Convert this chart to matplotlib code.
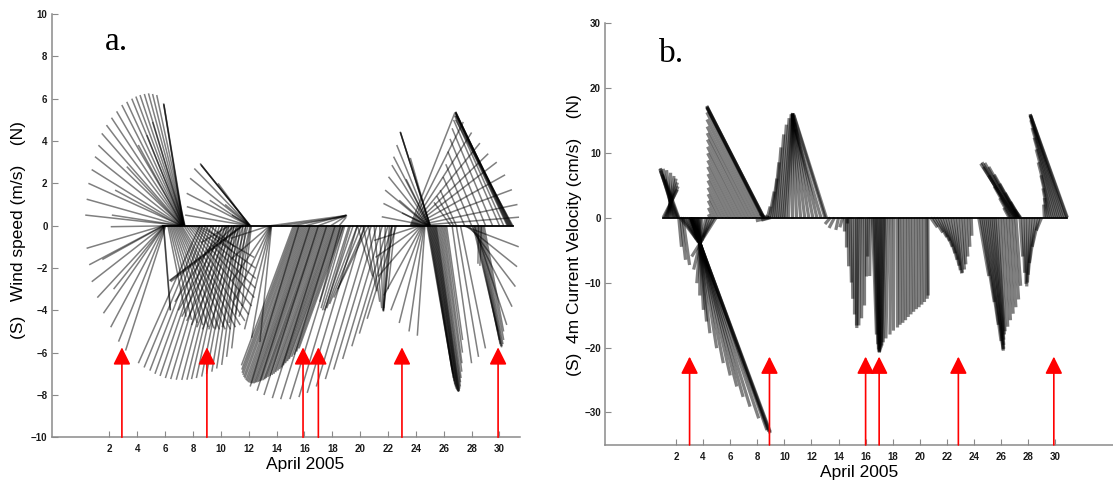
import matplotlib
matplotlib.use("Agg")
import matplotlib.pyplot as plt
from matplotlib.collections import LineCollection

plt.rcParams["font.family"] = ["Liberation Sans", "DejaVu Sans"]

# ---- (a) wind sticks: base day, east (m/s), north (m/s) ----
wind_day = [
    7.15, 7.18, 7.21, 7.24, 7.27, 7.30, 7.33, 7.36, 7.39, 7.42, 7.30, 7.33, 7.36, 7.05, 7.10, 7.12, 7.20, 7.25, 7.30, 7.35,
    7.16, 7.20, 7.23, 7.26, 7.29, 7.32, 7.35, 7.38, 7.41,
    5.85, 5.90, 5.95, 6.00, 5.90, 5.95, 5.88, 5.90, 8.50, 8.90, 9.30, 9.70, 10.10, 10.45, 10.80, 11.10, 11.40, 11.80,
    5.87, 5.92, 5.97, 6.05,
    8.70, 9.10, 9.50, 9.90, 10.30, 10.60, 10.95, 11.25, 11.60,
    6.20, 6.40, 6.60, 6.80, 7.00, 7.20, 7.50, 7.80, 8.10, 8.40, 11.50, 11.55, 11.60, 10.20, 10.60, 11.00, 11.40, 11.80, 12.10, 12.20, 8.80, 9.20, 11.00, 10.60,
    6.30, 6.50, 6.70, 6.90, 7.10, 7.35, 7.65, 7.95, 8.25, 10.40, 10.80, 11.20, 11.60, 11.95, 12.15,
    11.95, 11.98, 12.00, 12.03, 12.06, 12.08, 12.10, 12.12, 12.00, 12.05, 12.10, 12.10,
    13.50, 13.52, 13.54, 13.56, 13.58, 13.60, 13.62, 13.64,
    13.60, 14.30, 15.20, 16.10, 17.00, 17.90, 18.50,
    15.20, 15.40, 15.60, 15.80, 16.00, 16.20, 16.40, 16.60, 16.80, 17.00, 17.20, 17.40, 17.60, 17.80, 18.00, 18.20, 18.40, 18.60, 18.80,
    15.30, 15.50, 15.70, 15.90, 16.10, 16.30, 16.50, 16.70, 16.90, 17.10, 17.30, 17.50, 17.70, 17.90, 18.10, 18.30, 18.50, 18.70,
    18.60, 18.90, 19.20, 19.50, 19.80, 20.10, 20.40, 20.60,
    15.60, 16.40, 17.00, 17.60, 18.20, 18.80, 19.30, 19.80, 20.30, 20.80, 21.20, 21.60, 22.00, 22.30, 22.60,
    19.80, 20.20, 20.60, 21.00, 21.40, 21.80, 22.10, 22.25, 22.30, 22.50,
    24.30, 24.35, 24.40, 24.45, 24.50, 24.55, 24.60, 24.65,
    24.80, 24.83, 24.86, 24.89, 24.92, 24.95, 24.98, 25.00, 25.02, 25.04, 24.90, 24.95, 25.00, 24.90,
    30.55, 30.60, 30.65, 30.70, 30.75, 30.80, 30.85, 30.90, 30.95,
    23.60, 23.65, 23.70, 23.75, 23.80, 23.85, 23.90, 23.95, 24.00, 24.05,
    26.90, 26.70, 26.50,
    27.50, 28.00, 28.50, 29.00, 29.50, 30.00, 30.30,
    24.80, 24.90, 25.00, 25.10, 25.20, 25.30, 25.40, 25.50, 25.60, 25.70, 25.80, 25.90, 26.00, 26.10, 26.20,
    24.85, 24.95, 25.05, 25.15, 25.25, 25.35, 25.45,
    28.10, 28.20, 28.30, 28.40, 28.50, 28.60, 28.70, 28.80, 28.90, 28.50, 28.70,
    27.40, 27.60, 27.80, 28.00, 28.20, 26.60, 26.90, 27.20,
]
wind_east = [
    -4.53, -4.40, -4.11, -3.81, -3.37, -2.90, -2.45, -2.08, -1.70, -1.33, -0.93, -0.94, -0.95, -3.26, -3.24, -3.10, -2.60, -2.09, -1.72, -1.48,
    -4.47, -4.26, -3.96, -3.60, -3.14, -2.68, -2.27, -1.89, -1.52,
    -3.61, -3.40, -2.88, -2.20, -2.90, -2.40, 0.32, 0.32, -2.91, -2.63, -2.41, -2.17, -1.91, -1.68, -1.43, -1.15, -0.88, -0.67,
    -3.50, -3.15, -2.55, -1.90,
    -2.77, -2.52, -2.29, -2.04, -1.80, -1.55, -1.30, -1.02, -0.78,
    0.86, 1.25, 1.65, 2.04, 2.43, 2.76, 2.96, 3.03, 2.90, 2.63, -3.42, -3.42, -3.42, -2.30, -2.24, -2.04, -1.78, -1.45, -0.99, -0.46, 1.32, 1.18, -1.32, -1.32,
    1.05, 1.45, 1.85, 2.25, 2.60, 2.88, 3.00, 2.98, 2.78, -2.27, -2.14, -1.92, -1.62, -1.22, -0.72,
    -2.97, -2.91, -2.93, -2.79, -2.61, -2.35, -2.34, -2.32, -1.84, -1.48, -1.18, -0.86,
    -1.84, -1.86, -1.80, -1.68, -1.50, -1.25, -0.93, -0.55,
    3.55, 3.03, 2.50, 1.91, 1.35, 0.76, 0.33,
    -2.45, -2.55, -2.60, -2.63, -2.65, -2.65, -2.65, -2.65, -2.63, -2.60, -2.60, -2.55, -2.50, -2.45, -2.40, -2.35, -2.30, -2.20, -2.10,
    -2.50, -2.58, -2.62, -2.64, -2.65, -2.65, -2.65, -2.64, -2.62, -2.60, -2.58, -2.52, -2.48, -2.42, -2.38, -2.32, -2.25, -2.15,
    -0.99, -1.12, -1.25, -1.35, -1.45, -1.51, -1.51, -1.45,
    -2.30, -2.50, -2.57, -2.57, -2.57, -2.53, -2.43, -2.37, -2.27, -2.17, -2.04, -1.88, -1.71, -1.55, -1.38,
    0.72, 0.66, 0.53, 0.36, 0.16, -0.09, -0.28, -0.38, -0.39, -0.33,
    -2.17, -2.14, -2.04, -1.81, -1.51, -1.15, -0.72, -0.36,
    -2.14, -2.08, -2.02, -1.88, -1.74, -1.68, -1.55, -1.40, -1.41, -1.41, -1.38, -1.09, -0.92, -1.25,
    -2.43, -2.47, -2.50, -2.53, -2.57, -2.60, -2.63, -2.66, -2.70,
    2.11, 2.47, 2.83, 3.19, 3.55, 3.92, 4.28, 4.57, 4.80, 4.84,
    -0.76, -0.79, -0.79,
    -1.02, -1.22, -1.45, -1.68, -1.91, -2.17, -2.32,
    1.18, 1.18, 1.18, 1.18, 1.18, 1.15, 1.12, 1.09, 1.05, 0.99, 0.95, 0.92, 0.86, 0.82, 0.76,
    1.18, 1.18, 1.18, 1.18, 1.16, 1.14, 1.10,
    1.18, 1.18, 1.15, 1.12, 1.09, 1.05, 1.02, 0.99, 0.92, -0.03, -0.07,
    2.62, 2.41, 2.20, 1.91, 1.53, 0.92, 1.05, 1.18,
]
wind_north = [
    0.50, 2.00, 3.26, 4.36, 5.10, 5.70, 6.00, 6.17, 6.25, 6.17, 5.78, 5.75, 5.72, -0.05, 0.50, 1.68, 2.79, 3.81, 4.28, 4.90,
    1.25, 2.65, 3.80, 4.75, 5.40, 5.85, 6.10, 6.22, 6.22,
    -1.07, -2.65, -4.14, -5.48, -1.60, -3.00, -4.00, -4.00, -6.50, -6.85, -7.10, -7.25, -7.29, -7.25, -7.13, -6.90, -6.58, -5.80,
    -1.85, -3.40, -4.80, -5.90,
    -6.70, -7.00, -7.20, -7.28, -7.28, -7.20, -7.00, -6.75, -6.20,
    -4.30, -4.60, -4.80, -4.90, -4.90, -4.70, -4.20, -3.40, -2.50, -1.50, -2.60, -2.60, -2.65, -3.60, -4.30, -4.70, -4.90, -4.90, -4.60, -3.80, -1.20, -1.00, -1.20, -0.80,
    -4.45, -4.70, -4.85, -4.90, -4.80, -4.50, -3.80, -2.95, -2.00, -4.00, -4.50, -4.80, -4.90, -4.80, -4.20,
    0.50, 0.90, 1.53, 2.24, 2.70, 2.94, 2.90, 2.85, 1.20, 2.00, 1.00, 0.50,
    -0.60, -1.60, -2.60, -3.50, -4.30, -4.90, -5.30, -5.50,
    0.48, 0.42, 0.47, 0.50, 0.50, 0.48, 0.40,
    -6.60, -6.95, -7.15, -7.30, -7.40, -7.45, -7.45, -7.40, -7.35, -7.30, -7.20, -7.10, -7.00, -6.85, -6.70, -6.50, -6.30, -6.10, -5.80,
    -6.80, -7.05, -7.22, -7.35, -7.42, -7.45, -7.42, -7.38, -7.32, -7.25, -7.15, -7.05, -6.92, -6.78, -6.60, -6.40, -6.20, -5.95,
    -3.60, -3.90, -4.00, -4.00, -3.90, -3.70, -3.40, -3.00,
    -7.60, -7.80, -8.00, -8.15, -8.20, -8.20, -8.10, -7.90, -7.60, -7.25, -6.80, -6.30, -5.70, -5.10, -4.40,
    -2.40, -3.10, -3.60, -3.90, -4.00, -4.05, -4.05, -4.00, -3.90, -3.00,
    -0.70, -1.50, -2.40, -3.30, -4.00, -4.60, -5.00, -5.20,
    0.42, 1.05, 1.68, 2.31, 2.86, 3.26, 3.81, 4.44, 4.42, 4.40, 1.20, 2.20, 3.20, 0.60,
    5.20, 5.30, 5.35, 5.38, 5.38, 5.35, 5.30, 5.20, 5.00,
    5.35, 4.90, 4.40, 3.90, 3.40, 3.00, 2.40, 1.70, 1.00, 0.40,
    1.68, 1.40, 1.10,
    2.30, 2.90, 3.50, 4.10, 4.60, 5.00, 5.20,
    -6.80, -7.20, -7.50, -7.70, -7.80, -7.85, -7.80, -7.70, -7.60, -7.40, -7.20, -6.90, -6.50, -6.00, -5.40,
    -7.00, -7.35, -7.60, -7.75, -7.82, -7.85, -7.80,
    -5.00, -5.40, -5.60, -5.70, -5.75, -5.70, -5.60, -5.40, -5.00, -1.80, -1.90,
    -1.00, -1.94, -2.88, -3.83, -4.69, -6.50, -6.20, -5.80,
]

# ---- (b) 4 m current sticks: base day, east (cm/s), north (cm/s) ----
cur_day = [
    1.05, 1.15, 1.25, 1.35, 1.45, 1.55, 1.70, 1.80, 1.90, 2.00, 2.10, 2.15, 2.20,
    2.20, 2.35, 2.50,
    2.30, 2.45, 2.60, 2.75, 2.90, 3.00, 3.06, 3.07, 3.08, 3.09, 3.13, 3.19, 3.24, 3.28, 3.34, 3.40, 3.47, 3.56, 3.61, 3.67, 3.78, 3.92, 4.23, 4.96, 4.40, 4.60, 4.80,
    4.50, 4.75, 5.00, 5.25, 5.50, 5.75, 6.00, 6.25, 6.50, 6.75, 7.00, 7.25, 7.50, 7.75, 8.00, 8.25, 8.45, 8.50, 8.40, 8.48, 8.60, 8.80, 8.90, 9.00,
    8.75, 8.90, 9.05, 9.20, 9.35, 9.50, 9.65, 9.80, 9.95, 10.10,
    10.30, 10.60, 10.90, 11.20, 11.50, 11.80, 12.10, 12.40, 12.70, 13.00, 13.10,
    13.40, 13.70, 14.00, 14.30, 14.60,
    14.40, 14.55, 14.70, 14.85, 15.00, 15.15, 15.30, 15.45, 15.60, 15.75, 15.90, 16.05,
    16.20, 16.35,
    16.50, 16.60, 16.70, 16.80, 16.90, 17.00, 17.10, 17.20, 17.30, 17.40, 17.50,
    17.70, 17.90, 18.10, 18.30, 18.50, 18.70, 18.90, 19.10, 19.30, 19.50, 19.70, 19.90, 20.10, 20.30, 20.50, 20.60,
    20.80, 21.00, 21.20, 21.40, 21.60, 21.80, 22.00, 22.20, 22.40, 22.60, 22.80, 23.00, 23.20, 23.40, 23.60, 23.80,
    26.60, 26.70, 26.80, 26.90, 27.00, 27.05, 27.10, 27.15, 27.20, 27.25, 27.30, 27.35, 27.40, 27.45,
    24.35, 24.50, 24.65, 24.80, 24.95, 25.10, 25.25, 25.40, 25.55, 25.70, 25.90, 26.10, 26.30, 26.50, 26.70, 26.90, 27.10,
    27.40, 27.60, 27.80, 28.00, 28.20, 28.40, 28.60, 28.80, 29.00,
    29.20, 29.35, 29.50, 29.65, 29.80, 29.95, 30.10, 30.25, 30.40, 30.55, 30.70, 30.85, 30.90,
]
cur_east = [
    2.19, 2.09, 1.77, 1.36, 0.83, 0.10, -0.83, -1.57, -2.19, -2.50, -2.61, -2.40, -2.09,
    0.42, 0.73, 1.04,
    2.50, 2.40, 2.19, 1.98, 1.77, 1.57, 12.30, 12.25, 12.00, 11.71, 10.37, 8.91, 7.74, 6.68, 5.55, 4.36, 3.19, 1.96, 1.34, 0.73, -0.06, -0.81, -1.94, -3.76, -1.15, -1.46, -1.67,
    -0.23, -0.75, -1.29, -1.84, -2.36, -2.90, -3.42, -3.97, -4.49, -5.03, -5.57, -6.11, -6.66, -7.20, -7.74, -8.28, -8.72, -8.81, -8.60, -8.76, -0.83, -0.42, -2.09, -1.46,
    0.42, 0.73, 0.83, 0.83, 0.83, 0.94, 1.04, 1.15, 1.15, 1.04,
    0.67, 0.00, -0.63, -1.25, -1.84, -2.40, -2.92, -3.44, -3.97, -4.90, -5.00,
    -0.83, -0.83, -0.42, -0.42, 0.00,
    0.00, 0.00, 0.10, 0.21, 0.10, 0.00, 0.00, -0.21, -0.21, -0.10, 0.00, 0.00,
    -0.10, -0.10,
    0.63, 0.63, 0.52, 0.42, 0.21, 0.04, -0.10, -0.21, -0.31, -0.42, -0.42,
    -0.42, -0.21, -0.10, 0.00, 0.10, 0.10, 0.10, 0.10, 0.10, 0.10, 0.10, 0.10, 0.10, 0.10, 0.10, 0.04,
    1.04, 1.46, 1.67, 1.67, 1.67, 1.67, 1.57, 1.46, 1.25, 1.04, 0.73, 0.63, 0.42, 0.31, 0.21, 0.10,
    -0.83, -1.67, -2.71, -3.76, -4.80, -5.32, -5.22, -4.90, -4.38, -3.65, -2.92, -2.19, -1.46, -0.94,
    1.57, 2.09, 2.40, 2.50, 2.50, 2.23, 1.98, 1.67, 1.36, 1.15, 0.83, 0.83, 0.83, 0.83, 0.83, 0.83, 0.73,
    0.42, 0.31, 0.10, -0.21, -0.52, -0.83, -1.04, -1.04, -0.83,
    -0.10, -0.31, -0.83, -1.46, -2.19, -2.82, -3.44, -4.07, -4.59, -5.01, -5.32, -5.63, -5.63,
]
cur_north = [
    4.3, 4.8, 5.4, 6.0, 6.4, 6.9, 7.3, 7.5, 7.6, 7.5, 7.2, 6.6, 5.8,
    -4.5, -6.5, -7.3,
    -3.3, -3.6, -3.8, -3.9, -4.0, -4.0, -33.0, -33.2, -32.9, -32.7, -30.9, -29.1, -27.6, -26.0, -24.3, -22.4, -20.1, -17.8, -16.0, -14.2, -12.0, -10.1, -8.0, -6.0, -3.8, -3.5, -3.0,
    0.5, 1.5, 2.6, 3.6, 4.6, 5.7, 6.7, 7.8, 8.8, 9.9, 10.9, 12.0, 13.0, 14.0, 15.1, 16.2, 17.2, 17.0, 16.9, 17.1, 0.6, 0.3, -0.5, -0.4,
    1.7, 4.0, 6.0, 8.5, 10.8, 12.8, 14.3, 15.3, 15.9, 16.1,
    16.1, 16.0, 16.0, 15.9, 15.8, 15.6, 15.2, 14.6, 13.6, 16.0, 15.8,
    -1.0, -1.6, -1.9, -1.5, -0.8,
    -2.0, -4.5, -7.5, -10.0, -12.5, -14.8, -16.5, -17.0, -16.6, -15.5, -13.5, -9.0,
    -6.0, -9.0,
    -18.0, -19.5, -20.3, -20.6, -20.7, -20.8, -20.6, -20.3, -20.0, -19.7, -19.2,
    -18.6, -18.0, -17.4, -16.9, -16.5, -16.2, -15.8, -15.3, -14.9, -14.5, -14.1, -13.8, -13.4, -13.0, -12.5, -12.0,
    -1.5, -2.3, -3.0, -3.6, -4.5, -5.5, -6.5, -7.4, -8.1, -8.6, -8.5, -8.0, -7.2, -6.0, -4.5, -2.8,
    1.5, 3.0, 4.8, 6.5, 7.8, 8.3, 8.5, 8.4, 7.8, 6.6, 5.2, 3.8, 2.4, 1.2,
    -9.0, -13.0, -16.5, -19.0, -20.3, -20.5, -20.2, -19.6, -18.8, -18.0, -17.5, -16.8, -15.8, -14.8, -13.8, -12.6, -10.5,
    -6.0, -8.5, -10.2, -10.6, -10.0, -8.8, -7.0, -4.5, -2.0,
    2.0, 3.0, 4.5, 6.5, 8.5, 10.5, 12.3, 13.8, 15.0, 15.7, 15.9, 15.9, 15.7,
]

# red arrows (event days)
wind_events = [2.9, 9.0, 15.9, 17.0, 23.0, 29.9]
cur_events = [3.0, 8.9, 16.0, 17.0, 22.85, 29.9]
day_ticks = list(range(2, 31, 2))

assert len(wind_day) == len(wind_east) == len(wind_north)
assert len(cur_day) == len(cur_east) == len(cur_north)

fig = plt.figure(figsize=(11.13, 4.86), dpi=100)
ax_a = fig.add_axes([0.0465, 0.1002, 0.4208, 0.871])
ax_b = fig.add_axes([0.5436, 0.0844, 0.4564, 0.869])


def days_per_unit(ax):
    # keep sticks isotropic on screen
    pos = ax.get_position()
    w = pos.width * fig.get_figwidth()
    h = pos.height * fig.get_figheight()
    x0, x1 = ax.get_xlim()
    y0, y1 = ax.get_ylim()
    return (h / (y1 - y0)) / (w / (x1 - x0))


def setup(ax, xlim, ylim, yticks):
    ax.set_xlim(*xlim)
    ax.set_ylim(*ylim)
    for s in ("top", "right"):
        ax.spines[s].set_visible(False)
    for s in ("left", "bottom"):
        ax.spines[s].set_color("#8a8a8a")
        ax.spines[s].set_linewidth(1.1)
    ax.set_xticks(day_ticks)
    ax.set_yticks(yticks)
    ax.tick_params(direction="in", length=4, width=0.8, color="#8a8a8a",
                   labelsize=7, labelcolor="#1a1a1a")
    ax.tick_params(axis="x", pad=5)
    ax.tick_params(axis="y", pad=3)
    for lab in ax.get_xticklabels() + ax.get_yticklabels():
        lab.set_fontweight("bold")


def feather(ax, day, east, north, lw, alpha):
    k = days_per_unit(ax)
    segs = [[(d, 0.0), (d + e * k, n)] for d, e, n in zip(day, east, north)]
    ax.add_collection(LineCollection(segs, colors="black", linewidths=lw, alpha=alpha))
    ax.plot([min(day), max(day)], [0, 0], color="black", lw=1.3)


def events(ax, days, tip, bottom):
    for d in days:
        ax.annotate("", xy=(d, tip), xytext=(d, bottom),
                    arrowprops=dict(arrowstyle="-|>,head_length=1.0,head_width=0.5",
                                    mutation_scale=10.5, color="red", lw=1.2,
                                    shrinkA=0, shrinkB=0))


setup(ax_a, (-2.135, 31.48), (-10, 10), range(-10, 11, 2))
setup(ax_b, (-3.244, 34.27), (-35, 30), range(-30, 31, 10))

feather(ax_a, wind_day, wind_east, wind_north, lw=1.1, alpha=0.5)
feather(ax_b, cur_day, cur_east, cur_north, lw=2.3, alpha=0.5)

events(ax_a, wind_events, -5.75, -10)
events(ax_b, cur_events, -21.4, -35)

ax_a.set_ylabel("(S)   Wind speed (m/s)    (N)", fontsize=12.5, va="center")
ax_a.yaxis.set_label_coords(-0.07, 0.49)
ax_b.set_ylabel("(S)  4m Current Velocity (cm/s)    (N)", fontsize=12.5, va="center")
ax_b.yaxis.set_label_coords(-0.061, 0.497)

ax_a.text(0.541, -0.065, "April 2005", transform=ax_a.transAxes, ha="center", va="center", fontsize=12.5)
ax_b.text(0.5, -0.066, "April 2005", transform=ax_b.transAxes, ha="center", va="center", fontsize=12.5)

fig.text(105 / 1113, 1 - 50 / 486, "a.", fontsize=24, family="Liberation Serif", va="baseline")
fig.text(659 / 1113, 1 - 62 / 486, "b.", fontsize=24, family="Liberation Serif", va="baseline")

fig.savefig("out.png", dpi=100)
